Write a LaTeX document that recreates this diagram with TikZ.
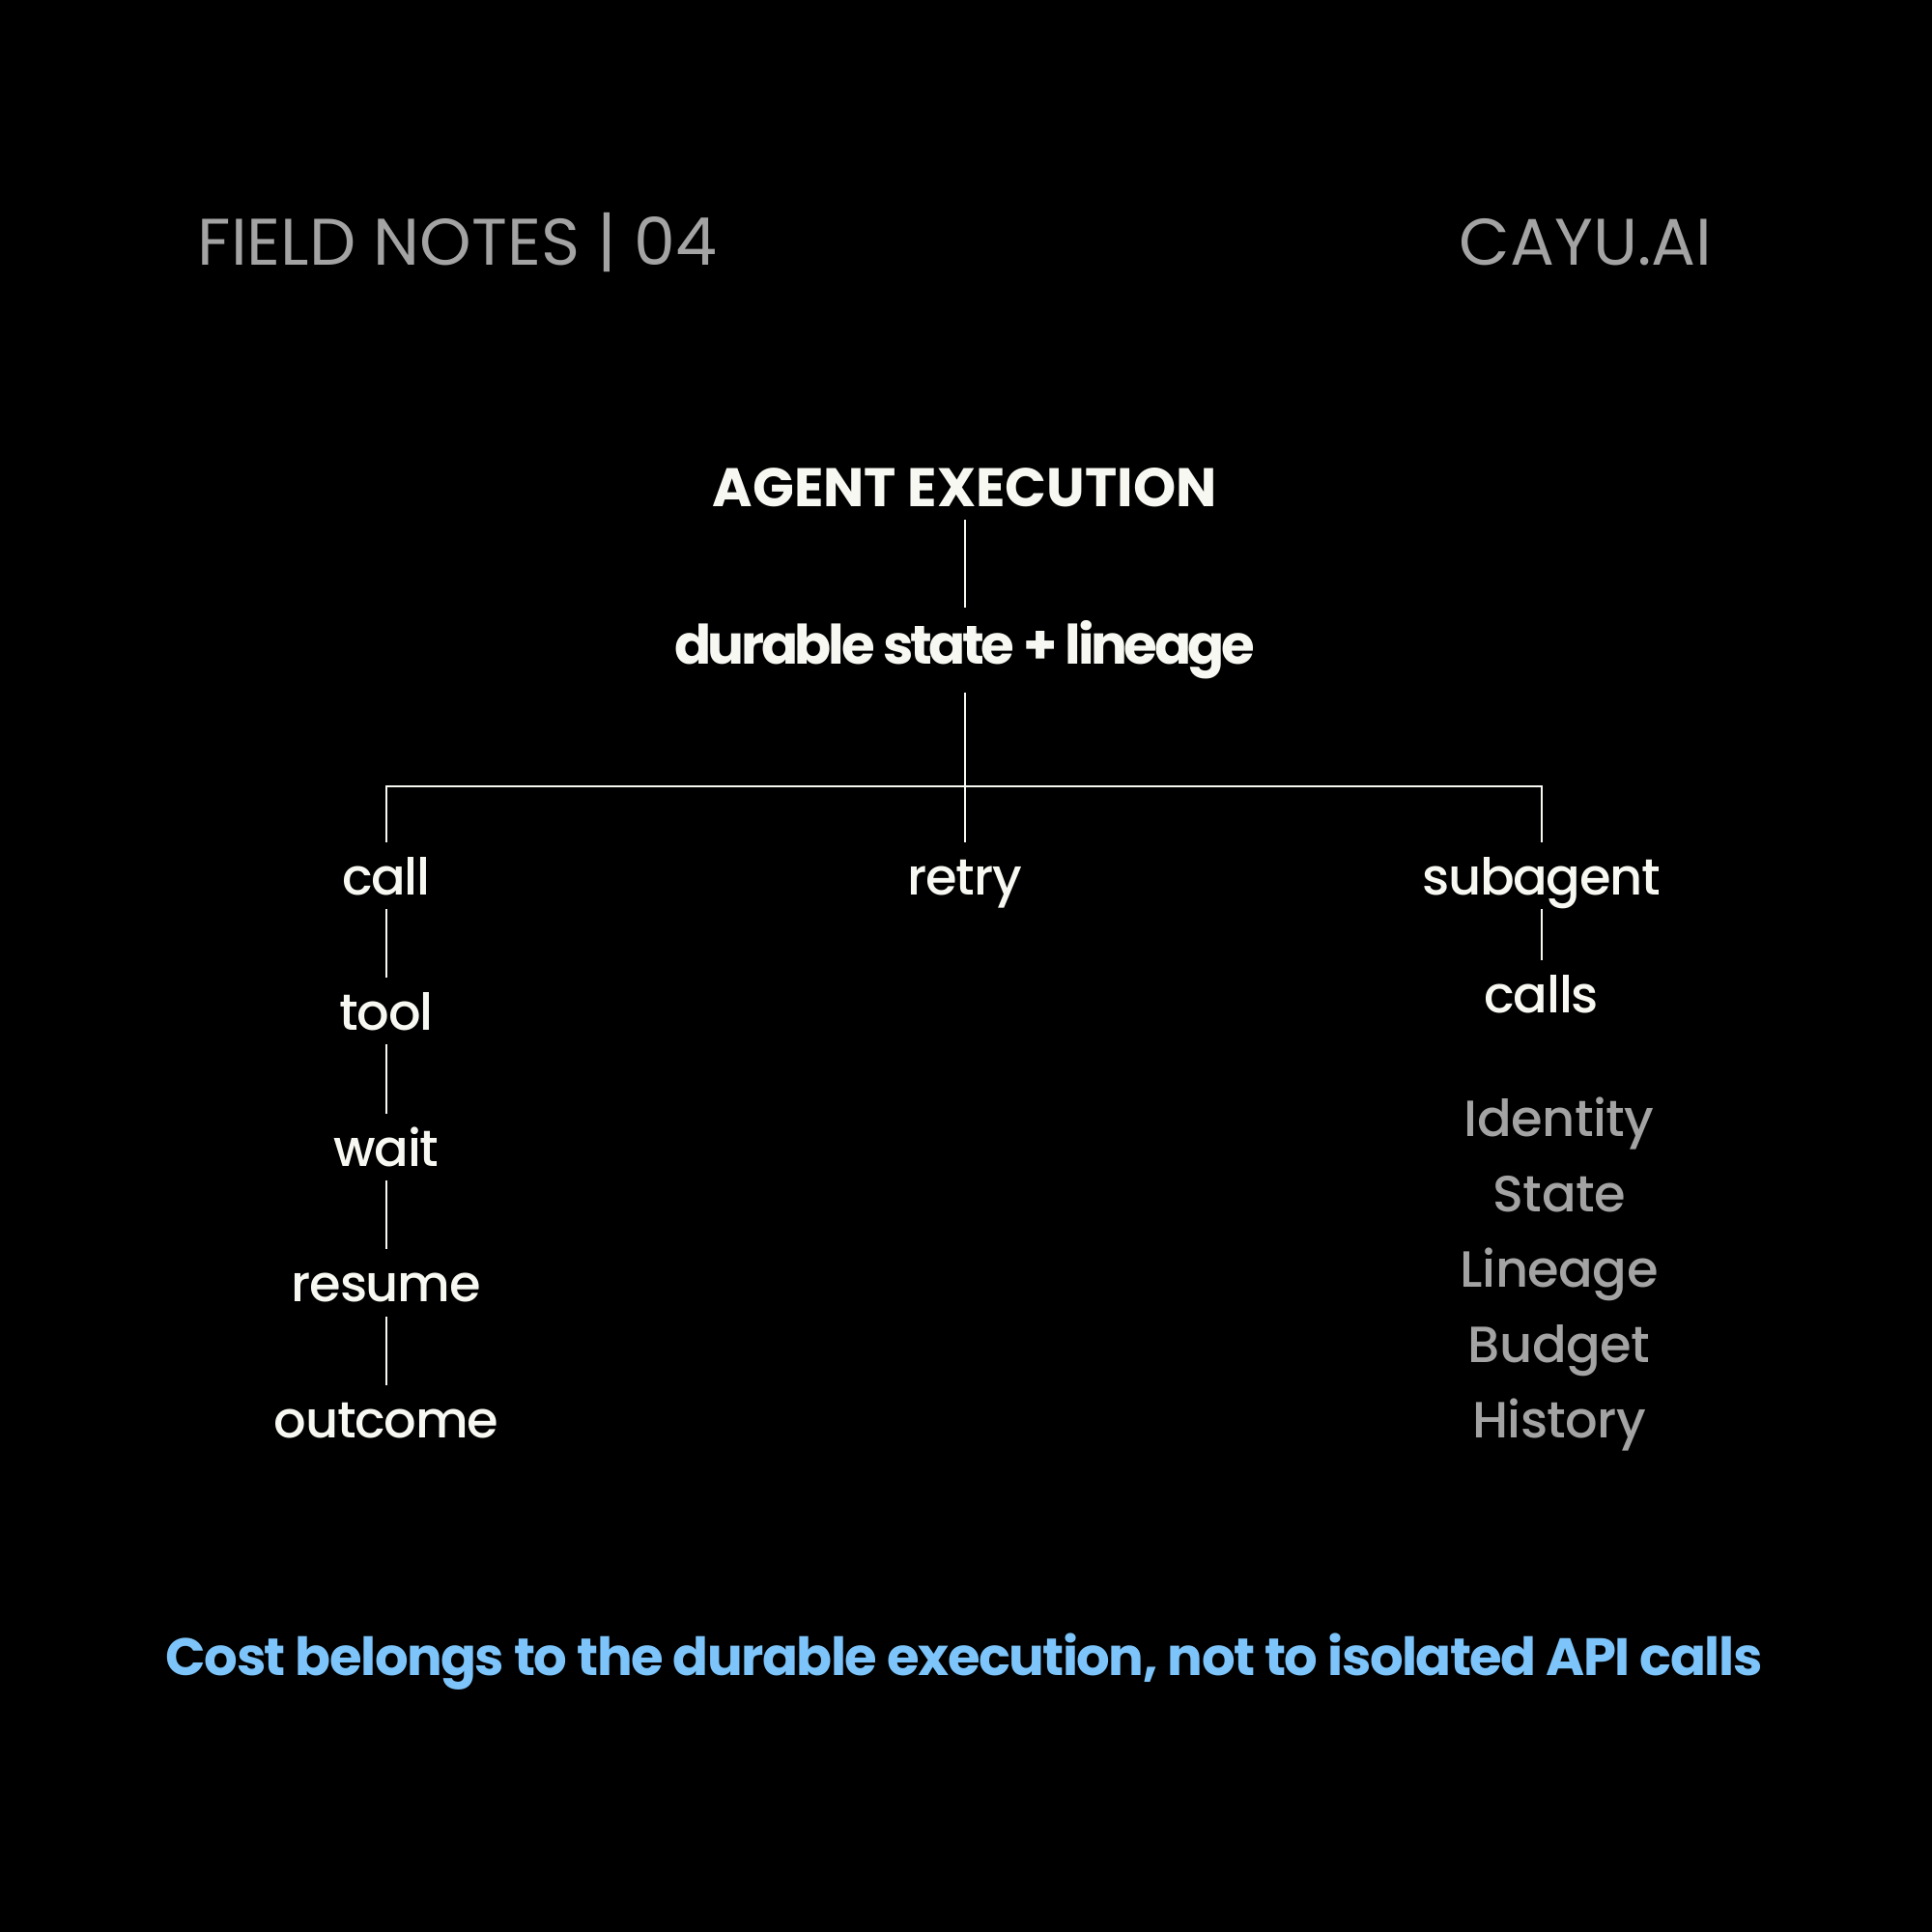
\documentclass[tikz,border=0pt]{standalone}
\usepackage{fontspec}
\setmainfont{Poppins}
\newfontfamily\medfont{Poppins Medium}
\usetikzlibrary{positioning}
\definecolor{cream}{HTML}{F8F8F2}
\definecolor{hdgray}{HTML}{A3A3A3}
\definecolor{skyblue}{HTML}{7CC4FA}
\tikzstyle{hbox}=[text=hdgray, font=\fontsize{19.4}{23}\selectfont, inner sep=0pt]
\tikzstyle{tbox}=[text=cream, font=\fontsize{16}{19}\selectfont\bfseries,
 inner xsep=0pt, inner ysep=3.6pt]
\tikzstyle{sbox}=[text=cream, font=\medfont\fontsize{15}{18}\selectfont\addfontfeature{LetterSpace=-2.5},
 inner xsep=0pt, inner ysep=3.3pt, text height=12pt, text depth=0.7pt]
\tikzstyle{gbox}=[text=hdgray, font=\medfont\fontsize{15}{18}\selectfont\addfontfeature{LetterSpace=-1},
 inner sep=0pt, text height=12pt, text depth=4pt]
\tikzstyle{pline}=[-, draw=cream, line width=0.5pt]

\begin{document}
\begin{tikzpicture}[x=0.012755cm, y=0.012755cm, node distance=20.3pt]

\fill[black] (0,0) rectangle (1568,-1568);
\useasboundingbox (0,0) rectangle (1568,-1568);

\node (FNOTES) [hbox, anchor=base west] at (160,-215) {FIELD NOTES | 04};
\node (CAYU) [hbox, anchor=base east] at (1390,-215) {CAYU.AI};

\node (AE) [tbox, anchor=base] at (783,-411) {AGENT EXECUTION};
\node (DSL) [tbox, font=\fontsize{16}{19}\selectfont\bfseries\addfontfeature{LetterSpace=-6},
 below=26pt of AE] {durable state + lineage};

\node (CALL) [sbox, anchor=base] at (313.5,-726) {call};
\node (RETRY) [sbox, anchor=base] at (783,-726) {retry};
\node (SUBAG) [sbox, anchor=base] at (1251,-726) {subagent};

\node (TOOL) [sbox, below=of CALL] {tool};
\node (WAIT) [sbox, below=of TOOL] {wait};
\node (RESUME) [sbox, below=of WAIT] {resume};
\node (OUTCOME) [sbox, below=of RESUME] {outcome};

\node (CALLS) [sbox, below=15.2pt of SUBAG] {calls};

\node (IDENT) [gbox, anchor=base] at (1265.5,-922) {Identity};
\node (STATE) [gbox, below=5.8pt of IDENT] {State};
\node (LINEAGE) [gbox, below=5.8pt of STATE] {Lineage};
\node (BUDGET) [gbox, below=5.8pt of LINEAGE] {Budget};
\node (HISTORY) [gbox, below=5.8pt of BUDGET] {History};

\node (COST) [text=skyblue, font=\fontsize{15.5}{19}\selectfont\bfseries\addfontfeature{LetterSpace=-2.8},
 anchor=base] at (782.5,-1360) {Cost belongs to the durable execution, not to isolated API calls};

 \draw[pline] (AE) -- (DSL);
 \draw[pline] (DSL) -- (RETRY);
 \draw[pline] (CALL.north) -- ++(0,45) -| (SUBAG.north);
 \draw[pline] (CALL) -- (TOOL);
 \draw[pline] (TOOL) -- (WAIT);
 \draw[pline] (WAIT) -- (RESUME);
 \draw[pline] (RESUME) -- (OUTCOME);
 \draw[pline] (SUBAG) -- (CALLS);

\end{tikzpicture}
\end{document}
